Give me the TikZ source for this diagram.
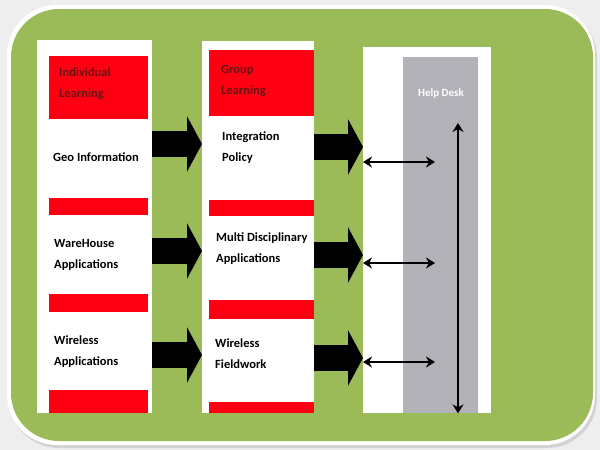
\documentclass[tikz,border=0pt]{standalone}
\usepackage{fontspec}
\setmainfont{Carlito}
\usetikzlibrary{arrows.meta}
\definecolor{panelgreen}{RGB}{155,187,89}
\definecolor{hdrred}{RGB}{255,0,18}
\definecolor{hdrtext}{RGB}{105,20,20}
\definecolor{deskgray}{RGB}{178,178,184}
\definecolor{canvas}{RGB}{238,238,238}
\tikzset{
  column/.style={fill=white, inner sep=0pt, anchor=north west},
  hdr/.style={fill=hdrred, inner sep=0pt, anchor=north west},
  bar/.style={fill=hdrred, inner sep=0pt, anchor=north west},
  hdrlbl/.style={text=hdrtext, font=\bfseries\fontsize{12.5}{21}\selectfont,
    align=left, anchor=west, inner sep=0pt},
  item/.style={font=\bfseries\fontsize{12.5}{21}\selectfont, align=left,
    anchor=west, inner sep=0pt},
  bigarrow/.style={line width=26pt, -{Triangle[length=15pt,width=55pt]}},
  link/.style={line width=2.2pt,
    {Stealth[length=9pt,width=11pt]}-{Stealth[length=9pt,width=11pt]}}
}

\begin{document}
\begin{tikzpicture}[x=1pt, y=-1pt]
  \useasboundingbox (0,0) rectangle (600,450);
  \fill[canvas] (0,0) rectangle (600,450);
  % green panel with a light rim
  \fill[gray!35, rounded corners=50pt] (9,8) rectangle (597,448);
  \fill[white, rounded corners=50pt] (7,5) rectangle (595,445);
  \fill[panelgreen, rounded corners=48pt] (11,9) rectangle (593,441);

  % columns
  \node[column, minimum width=115pt, minimum height=373pt] (col1) at (37,40) {};
  \node[column, minimum width=112pt, minimum height=372pt] (col2) at (202,41) {};
  \node[column, minimum width=128pt, minimum height=366pt] (col3) at (363,47) {};
  \node[column, fill=deskgray, minimum width=75pt, minimum height=356pt] (desk) at (403,57) {};

  % red headers and separators
  \node[hdr, minimum width=99pt, minimum height=63pt] (hd1) at (49,56) {};
  \node[hdr, minimum width=105pt, minimum height=66pt] (hd2) at (209,50) {};
  \foreach \t/\h [count=\i] in {198/17, 294/18, 390/23}
    \node[bar, minimum width=99pt, minimum height=\h pt] (barA\i) at (49,\t) {};
  \foreach \t/\h [count=\i] in {200/16, 300/19, 402/11}
    \node[bar, minimum width=105pt, minimum height=\h pt] (barB\i) at (209,\t) {};

  % labels
  \node[hdrlbl] (indiv) at (59,84) {Individual\\Learning};
  \node[hdrlbl] (group) at (221,81) {Group\\Learning};
  \node[item] (geo) at (53,157) {Geo Information};
  \node[item] (ware) at (54,255) {WareHouse\\Applications};
  \node[item] (wapp) at (54,352) {Wireless\\Applications};
  \node[item] (integ) at (222,148) {Integration\\Policy};
  \node[item] (multi) at (216,249) {Multi Disciplinary\\Applications};
  \node[item] (field) at (215,354) {Wireless\\Fieldwork};
  \node[font=\bfseries\fontsize{11}{12}\selectfont, text=white, inner sep=0pt]
    (help) at (441,94) {Help Desk};

  % block arrows between columns
  \foreach \y in {144,251,355}
    \draw[bigarrow] (col1.east |- 0,\y) -- (col2.west |- 0,\y);
  \foreach \y in {147,255,358}
    \draw[bigarrow] (col2.east |- 0,\y) -- (col3.west |- 0,\y);

  % help desk links
  \coordinate (hub) at (435,0);
  \foreach \y in {162,263,362}
    \draw[link] (col3.west |- 0,\y) -- (hub |- 0,\y);
  \coordinate (top) at (458,123);
  \draw[link, line width=1.8pt] (top) -- (top |- desk.south);
\end{tikzpicture}
\end{document}
